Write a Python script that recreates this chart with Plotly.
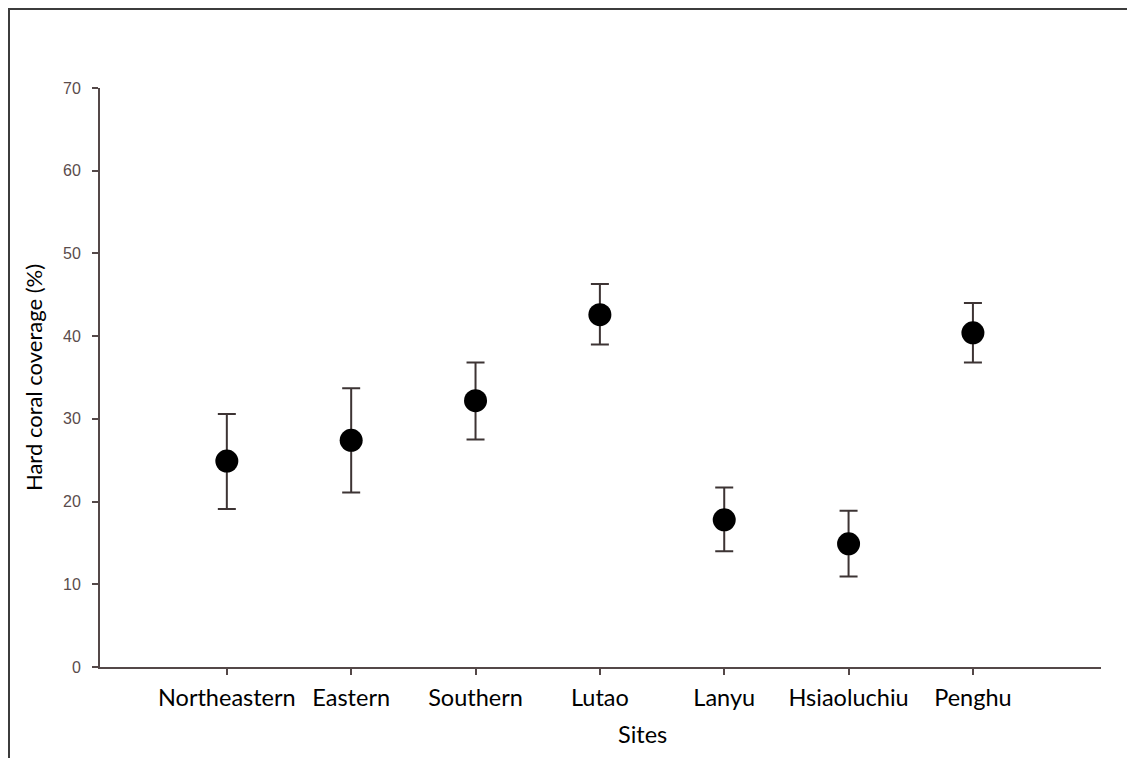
import plotly.graph_objects as go

sites = ["Northeastern", "Eastern", "Southern", "Lutao", "Lanyu", "Hsiaoluchiu", "Penghu"]
coverage = [24.9, 27.4, 32.2, 42.6, 17.8, 14.9, 40.4]
err_plus = [5.7, 6.3, 4.6, 3.7, 3.9, 4.0, 3.6]
err_minus = [5.8, 6.3, 4.7, 3.6, 3.8, 3.95, 3.6]
y_ticks = [0, 10, 20, 30, 40, 50, 60, 70]

axis_color = "#544848"

fig = go.Figure()
fig.add_trace(go.Scatter(
    x=sites, y=coverage, mode="markers",
    marker=dict(color="black", size=23),
    error_y=dict(type="data", array=err_plus, arrayminus=err_minus,
                 color="#3d3434", thickness=2, width=9),
    showlegend=False,
))

# page has an 8px body margin; figure is sized to fill the rest of the window
W, H = 1127, 750
ml, mr, mt, mb = 92, 34, 80, 91
pw, ph = W - ml - mr, H - mt - mb

def px_x(p):
    return (p - ml) / pw

def px_y(p):
    return (H - mb - p) / ph

fig.update_layout(
    width=W, height=H,
    margin=dict(l=ml, r=mr, t=mt, b=mb),
    paper_bgcolor="white", plot_bgcolor="white",
    xaxis=dict(
        type="category", categoryorder="array", categoryarray=sites,
        range=[-1.02, 7.03],
        showline=True, linecolor=axis_color, linewidth=2,
        ticks="outside", ticklen=6, tickwidth=2, tickcolor=axis_color,
        tickfont=dict(family="Lato", size=23.5, color="black"),
        ticklabelstandoff=3,
        showgrid=False, zeroline=False,
    ),
    yaxis=dict(
        range=[0, 70], tickvals=y_ticks,
        showline=True, linecolor=axis_color, linewidth=2,
        ticks="outside", ticklen=6, tickwidth=1.5, tickcolor=axis_color,
        tickfont=dict(family="Liberation Sans", size=16, color="#5a4c4c"),
        ticklabelstandoff=8,
        showgrid=False, zeroline=False,
        title=dict(text="Hard coral coverage (%)",
                   font=dict(family="Lato", size=22, color="black"), standoff=14),
    ),
    annotations=[
        dict(text="Sites", xref="paper", yref="paper",
             x=px_x(634), y=px_y(726), xanchor="center", yanchor="middle",
             showarrow=False, font=dict(family="Lato", size=23.5, color="black")),
    ],
    shapes=[
        dict(type="line", xref="paper", yref="paper",
             x0=px_x(0), x1=px_x(W), y0=px_y(1), y1=px_y(1),
             line=dict(color="#3c3c3c", width=2)),
        dict(type="line", xref="paper", yref="paper",
             x0=px_x(1), x1=px_x(1), y0=px_y(0), y1=px_y(H),
             line=dict(color="#3c3c3c", width=2)),
    ],
)

fig.write_html("out.html")
